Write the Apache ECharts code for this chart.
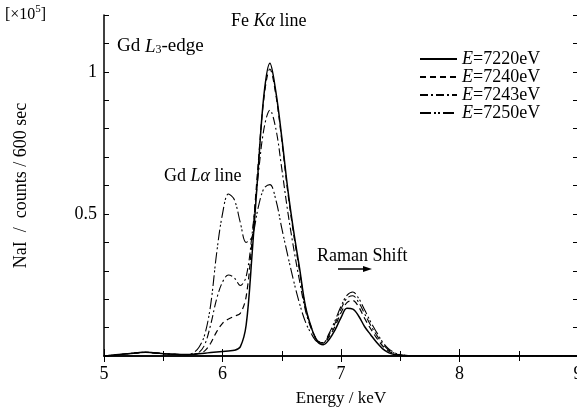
<!DOCTYPE html>
<html>
<head>
<meta charset="utf-8">
<script src="https://cdn.jsdelivr.net/npm/echarts@6/dist/echarts.min.js"></script>
<style>
html,body{margin:0;padding:0;background:#fff;}
#c{width:577px;height:410px;}
</style>
</head>
<body>
<div id="c"></div>
<script>
// Energy (keV)
var energy = [5.00,5.05,5.10,5.15,5.20,5.25,5.30,5.35,5.40,5.45,5.50,5.55,5.60,5.65,5.70,5.75,5.80,5.85,5.90,5.95,
  6.00,6.05,6.10,6.15,6.20,6.25,6.30,6.35,6.40,6.45,6.50,6.55,6.60,6.65,6.70,6.75,6.80,6.85,6.90,6.95,
  7.00,7.05,7.10,7.15,7.20,7.25,7.30,7.35,7.40,7.45,7.50,7.60,7.80,8.00,8.50,9.00];
// NaI counts / 600 sec  (x10^5)
var e7220 = [0.000,0.002,0.004,0.006,0.008,0.010,0.012,0.013,0.012,0.010,0.008,0.007,0.006,0.005,0.005,0.006,0.008,0.010,0.012,0.014,
  0.016,0.018,0.020,0.032,0.110,0.360,0.650,0.920,1.030,0.930,0.770,0.590,0.440,0.310,0.175,0.100,0.052,0.040,0.058,0.092,
  0.135,0.168,0.165,0.140,0.103,0.075,0.048,0.026,0.012,0.005,0.002,0.001,0.001,0.001,0.001,0.000];
var e7240 = [0.000,0.002,0.004,0.006,0.008,0.010,0.012,0.013,0.012,0.010,0.008,0.007,0.006,0.005,0.005,0.006,0.009,0.018,0.045,0.085,
  0.115,0.130,0.140,0.150,0.210,0.410,0.670,0.910,1.010,0.920,0.760,0.580,0.430,0.300,0.170,0.100,0.055,0.045,0.068,0.105,
  0.152,0.188,0.195,0.172,0.132,0.096,0.064,0.036,0.018,0.008,0.003,0.001,0.001,0.001,0.001,0.000];
var e7243 = [0.000,0.002,0.004,0.006,0.008,0.010,0.012,0.013,0.012,0.010,0.008,0.007,0.006,0.005,0.005,0.006,0.012,0.040,0.110,0.200,
  0.260,0.285,0.275,0.248,0.280,0.430,0.630,0.800,0.865,0.800,0.660,0.510,0.380,0.265,0.160,0.095,0.055,0.046,0.075,0.115,
  0.165,0.203,0.212,0.188,0.148,0.108,0.074,0.044,0.022,0.010,0.004,0.001,0.001,0.001,0.001,0.000];
var e7250 = [0.000,0.002,0.004,0.006,0.008,0.010,0.012,0.013,0.012,0.010,0.008,0.007,0.006,0.005,0.005,0.010,0.030,0.075,0.180,0.360,
  0.500,0.570,0.550,0.470,0.400,0.420,0.520,0.590,0.603,0.550,0.450,0.355,0.265,0.185,0.120,0.078,0.050,0.047,0.080,0.125,
  0.175,0.213,0.225,0.202,0.162,0.120,0.084,0.050,0.026,0.012,0.005,0.001,0.001,0.001,0.001,0.000];
var seriesNames = ['7220','7240','7243','7250'];
var xTicks = [5,6,7,8,9];
var yTickLabels = {'0.5':'0.5','1':'1'};

function pairs(v){ return energy.map(function(e,i){ return [e, v[i]]; }); }
var F = 'Liberation Serif';
var dashes = ['solid',[6,4],[8,3,2,3],[11,3,2,2,2,3]];
var widths = [1.5,1.2,1.1,1.1];
var vals = [e7220,e7240,e7243,e7250];

var series = seriesNames.map(function(n,i){
  return {
    name: n, type: 'line', data: pairs(vals[i]), symbol: 'none', smooth: 0.35,
    lineStyle: {color: '#000', width: widths[i], type: dashes[i]},
    itemStyle: {color: '#000'}, silent: true, animation: false
  };
});

var chart = echarts.init(document.getElementById('c'), null, {renderer: 'canvas'});
chart.setOption({
  animation: false,
  backgroundColor: '#fff',
  grid: {left: 104, top: 15, width: 474, height: 341, outerBoundsMode: 'none', containLabel: false},
  legend: {
    orient: 'vertical', left: 414, top: 45, itemWidth: 37, itemHeight: 10, itemGap: 0,
    data: seriesNames,
    itemStyle: {opacity: 0},
    formatter: function(n){ return '{i|E}{n|=' + n + 'eV}'; },
    textStyle: {
      rich: {
        i: {fontFamily: F, fontStyle: 'italic', fontSize: 18, lineHeight: 16, color: '#000'},
        n: {fontFamily: F, fontSize: 18, lineHeight: 16, color: '#000'}
      }
    }
  },
  xAxis: [{
    type: 'value', min: 5, max: 9, interval: 1, position: 'bottom',
    name: 'Energy / keV', nameLocation: 'middle', nameGap: 34,
    nameTextStyle: {fontFamily: F, fontSize: 17, color: '#000'},
    axisLine: {lineStyle: {color: '#000', width: 1.5}},
    axisTick: {inside: true, length: 7, lineStyle: {color: '#000'}},
    minorTick: {show: true, splitNumber: 2, length: 5, lineStyle: {color: '#000'}},
    axisLabel: {fontFamily: F, fontSize: 18, color: '#000', margin: 9,
      formatter: function(v){ return xTicks.indexOf(v) >= 0 ? String(v) : ''; }},
    splitLine: {show: false}
  },{
    type: 'value', min: 5, max: 9, interval: 1, position: 'top',
    axisLine: {lineStyle: {color: '#000', width: 1.5}},
    axisTick: {inside: true, length: 6, lineStyle: {color: '#000'}},
    minorTick: {show: true, splitNumber: 2, length: 5, lineStyle: {color: '#000'}},
    axisLabel: {show: false}, splitLine: {show: false}
  }],
  yAxis: [{
    type: 'value', min: 0, max: 1.2, interval: 0.1, position: 'left',
    name: 'NaI  /  counts / 600 sec', nameLocation: 'middle', nameGap: 74, nameRotate: 90,
    nameTextStyle: {fontFamily: F, fontSize: 18, color: '#000'},
    axisLine: {lineStyle: {color: '#000', width: 1.5}},
    axisTick: {inside: true, length: 5, lineStyle: {color: '#000'}},
    axisLabel: {fontFamily: F, fontSize: 18, color: '#000', margin: 7,
      formatter: function(v){ var k = String(Math.round(v*10)/10); return yTickLabels[k] || ''; }},
    splitLine: {show: false}
  },{
    type: 'value', min: 0, max: 1.2, interval: 0.1, position: 'right',
    axisLine: {show: true, lineStyle: {color: '#000', width: 1.5}},
    axisTick: {inside: true, length: 5, lineStyle: {color: '#000'}},
    axisLabel: {show: false}, splitLine: {show: false}
  }],
  graphic: [
    {type: 'text', left: 5, top: 4, style: {text: '{a|[×10}{s|5}{a|]}', rich: {
      a: {fontFamily: F, fontSize: 16, color: '#000', verticalAlign: 'bottom'},
      s: {fontFamily: F, fontSize: 11, color: '#000', padding: [0,0,8,0], verticalAlign: 'bottom'}}}},
    {type: 'text', left: 117, top: 37, style: {text: '{a|Gd }{i|L}{s|3}{a|-edge}', rich: {
      a: {fontFamily: F, fontSize: 19, color: '#000', verticalAlign: 'bottom'},
      i: {fontFamily: F, fontSize: 19, fontStyle: 'italic', color: '#000', verticalAlign: 'bottom'},
      s: {fontFamily: F, fontSize: 12, color: '#000', verticalAlign: 'bottom'}}}},
    {type: 'text', left: 231, top: 12, style: {text: '{a|Fe }{i|Kα}{a| line}', rich: {
      a: {fontFamily: F, fontSize: 18, color: '#000'},
      i: {fontFamily: F, fontSize: 18, fontStyle: 'italic', color: '#000'}}}},
    {type: 'text', left: 164, top: 167, style: {text: '{a|Gd }{i|Lα}{a| line}', rich: {
      a: {fontFamily: F, fontSize: 18, color: '#000'},
      i: {fontFamily: F, fontSize: 18, fontStyle: 'italic', color: '#000'}}}},
    {type: 'text', left: 317, top: 247, style: {text: 'Raman Shift', font: '18px "Liberation Serif"', fill: '#000'}},
    {type: 'line', shape: {x1: 338, y1: 269, x2: 365, y2: 269}, style: {stroke: '#000', lineWidth: 1.5}},
    {type: 'polygon', shape: {points: [[372,269],[363,266],[363,272]]}, style: {fill: '#000'}}
  ],
  series: series
});
</script>
</body>
</html>
